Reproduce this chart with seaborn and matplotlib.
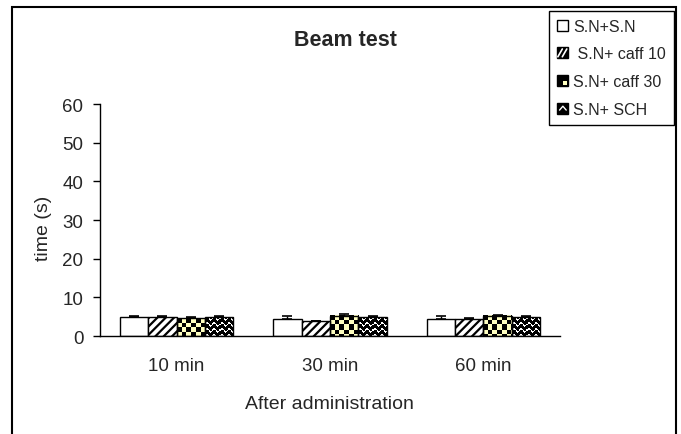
import numpy as np
import pandas as pd
import matplotlib
matplotlib.use("Agg")
import matplotlib.pyplot as plt
import seaborn as sns
from matplotlib.patches import Rectangle, Patch
from matplotlib.lines import Line2D
from matplotlib.legend_handler import HandlerBase

# Data
times = ["10 min", "30 min", "60 min"]
groups = ["S.N+S.N", " S.N+ caff 10", "S.N+ caff 30", "S.N+ SCH"]

sn_sn = [4.8, 4.5, 4.3]
caff10 = [4.8, 3.8, 4.5]
caff30 = [4.6, 5.3, 5.3]
sch = [4.8, 4.8, 4.8]

err_sn_sn = [0.5, 0.7, 0.9]
err_caff10 = [0.5, 0.1, 0.2]
err_caff30 = [0.2, 0.4, 0.1]
err_sch = [0.5, 0.5, 0.5]

values = [sn_sn, caff10, caff30, sch]
errors = [err_sn_sn, err_caff10, err_caff30, err_sch]

df = pd.DataFrame({
    "time": times * len(groups),
    "group": np.repeat(groups, len(times)),
    "value": np.concatenate(values),
})

YELLOW = "#FFFFC0"

sns.set_style("white")
plt.rcParams["font.family"] = ["Liberation Sans", "DejaVu Sans"]
plt.rcParams["hatch.linewidth"] = 1.6

W, H = 681, 435
fig = plt.figure(figsize=(W / 100, H / 100), dpi=100)
ax = fig.add_axes([100 / W, 1 - 337 / H, 460 / W, 232 / H])

sns.barplot(data=df, x="time", y="value", hue="group", order=times, hue_order=groups,
            palette=["white"] * 4, saturation=1, edgecolor="black", linewidth=1,
            width=0.74, gap=0, errorbar=None, legend=False, ax=ax)

bars = [list(c) for c in ax.containers]

# hatch / pattern setup
for b in bars[1]:
    b.set_hatch("////")
for b in bars[2] + bars[3]:
    b.set_facecolor("none")

ax.set_xlim(-0.5, 2.5)
ax.set_ylim(0, 60)
ax.set_yticks(range(0, 61, 10))
ax.set_xlabel("")
ax.set_ylabel("")
for s in ["top", "right"]:
    ax.spines[s].set_visible(False)
for s in ["left", "bottom"]:
    ax.spines[s].set_color("black")
    ax.spines[s].set_linewidth(1)
ax.tick_params(axis="y", direction="out", length=5, width=1, color="black",
               left=True, labelsize=13.5, pad=7)
ax.tick_params(axis="x", length=0, labelsize=13.5, pad=15)

# one-sided error bars
for hue_bars, errs in zip(bars, errors):
    for b, e in zip(hue_bars, errs):
        ax.errorbar(b.get_x() + b.get_width() / 2, b.get_height(), yerr=[[0], [e]],
                    fmt="none", ecolor="black", elinewidth=1, capsize=3.5, capthick=1.2)


def checker_img(h, w, cell=4.5):
    yy, xx = np.indices((h, w))
    mask = ((xx // cell + yy // cell) % 2).astype(bool)
    img = np.zeros((h, w, 3))
    img[mask] = matplotlib.colors.to_rgb(YELLOW)
    return img


def wave_img(h, w):
    yy, xx = np.indices((h, w))
    phase = (yy + 1.5 * np.sin(2 * np.pi * xx / 7.0)) % 6
    img = np.zeros((h, w, 3))
    img[phase < 1.6] = 1.0
    return img


fig.canvas.draw()
for hue_bars, maker in [(bars[2], checker_img), (bars[3], wave_img)]:
    for b in hue_bars:
        bb = b.get_window_extent()
        w = max(int(round(bb.width)), 1)
        h = max(int(round(bb.height)), 1)
        x0 = b.get_x()
        ax.imshow(maker(h, w), extent=(x0, x0 + b.get_width(), 0, b.get_height()),
                  aspect="auto", interpolation="nearest", zorder=0.9)
ax.set_xlim(-0.5, 2.5)
ax.set_ylim(0, 60)

# texts
fig.text(345 / W, 1 - 40 / H, "Beam test", ha="center", va="center",
         fontsize=15.5, fontweight="bold")
fig.text(44 / W, 1 - 228 / H, "time (s)", ha="center", va="center",
         rotation=90, fontsize=14)
fig.text(329 / W, 1 - 405 / H, "After administration", ha="center", va="center",
         fontsize=14)

# outer frame (bottom edge is cut off in the reference)
fig.patches.append(Rectangle((12 / W, -0.05), (676 - 12) / W, 1 - 8 / H + 0.05,
                             transform=fig.transFigure, fill=False,
                             edgecolor="black", linewidth=1.5, clip_on=False))


class PatternHandler(HandlerBase):
    def __init__(self, kind):
        super().__init__()
        self.kind = kind

    def create_artists(self, legend, orig_handle, xdescent, ydescent,
                       width, height, fontsize, trans):
        s = min(width, height)
        x0, y0 = -xdescent, -ydescent + (height - s) / 2
        face = {"plain": "white", "hatch": "black", "checker": "black", "wave": "black"}[self.kind]
        sq = Rectangle((x0, y0), s, s, facecolor=face, edgecolor="black",
                       linewidth=1, transform=trans)
        arts = [sq]
        if self.kind == "hatch":
            for k in (0.3, 0.7):
                arts.append(Line2D([x0 + s * (k - 0.25), x0 + s * (k + 0.15)],
                                   [y0 + s * 0.15, y0 + s * 0.85], color="white",
                                   linewidth=1.2, transform=trans))
        elif self.kind == "checker":
            arts.append(Rectangle((x0 + s / 2, y0 + 1), s / 2 - 1, s / 2 - 1,
                                  facecolor=YELLOW, edgecolor="none", transform=trans))
        elif self.kind == "wave":
            arts.append(Line2D([x0 + s * 0.2, x0 + s * 0.5, x0 + s * 0.8],
                               [y0 + s * 0.35, y0 + s * 0.7, y0 + s * 0.35],
                               color="white", linewidth=1, transform=trans))
        return arts


handles = [Patch(label=g) for g in groups]
kinds = ["plain", "hatch", "checker", "wave"]
leg = fig.legend(handles, groups, loc="upper right",
                 bbox_to_anchor=(674 / W, 1 - 11.7 / H),
                 handler_map={h: PatternHandler(k) for h, k in zip(handles, kinds)},
                 fontsize=11.5, frameon=True, fancybox=False, edgecolor="black",
                 handlelength=0.7, handleheight=0.7, handletextpad=0.3,
                 labelspacing=0.8, borderpad=0.5, borderaxespad=0)
leg.get_frame().set_linewidth(1)
leg.get_frame().set_alpha(1)

fig.savefig("out.png", dpi=100, facecolor="white")
